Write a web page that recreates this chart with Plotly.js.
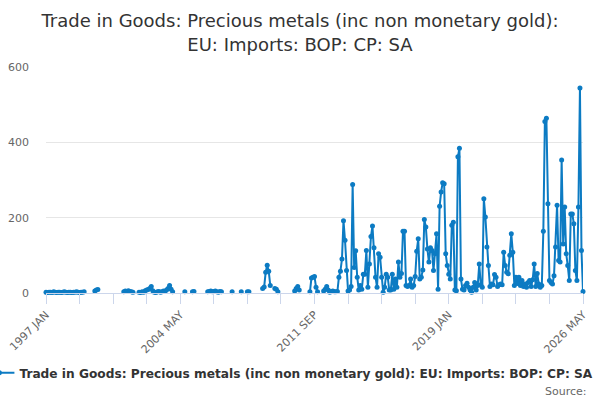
<!DOCTYPE html>
<html>
<head>
<meta charset="utf-8">
<script src="https://cdn.plot.ly/plotly-3.0.1.min.js"></script>
<style>
  html, body { margin: 0; padding: 0; background: #ffffff; }
  #chart { width: 600px; height: 400px; }
</style>
</head>
<body>
<div id="chart"></div>
<script>
// ---- Data (monthly, £ million) ----
const startYear = 1997;
const monthNames = ['JAN','FEB','MAR','APR','MAY','JUN','JUL','AUG','SEP','OCT','NOV','DEC'];

// 1997 JAN - 2004 DEC
const values1997to2004 = [
  2,1,2,2,1,3,2,1,2,2,1,2,
  3,2,1,2,2,1,2,2,3,2,1,2,
  2,3,null,null,null,null,null,null,5,8,9,null,
  null,null,null,null,null,null,null,null,null,null,null,null,
  null,null,null,3,5,4,6,4,3,2,null,null,
  null,2,1,3,2,6,8,9,12,17,6,2,
  1,3,4,2,3,5,4,8,12,20,10,3,
  null,null,null,null,null,null,null,3,null,null,null,null
];
// 2005 JAN - 2012 DEC
const values2005to2012 = [
  3,4,null,null,null,null,null,null,null,null,3,4,
  5,3,4,5,3,2,4,3,null,null,null,null,
  null,null,3,null,null,null,null,null,3,null,null,null,
  3,3,null,null,null,null,null,null,null,null,12,16,
  55,74,58,20,null,null,12,10,3,null,null,null,
  null,null,null,null,null,null,null,5,12,17,8,null,
  null,null,null,null,null,3,40,42,44,15,3,null,
  null,null,5,10,17,8,2,4,5,3,3,4
];
// 2013 JAN - 2019 DEC
const values2013to2019 = [
  42,58,90,192,140,60,5,8,17,288,68,112,
  42,8,20,10,50,50,113,15,77,150,178,120,
  42,15,104,95,42,2,15,50,42,8,8,50,
  10,37,15,82,42,52,164,164,20,17,20,37,
  15,20,44,111,144,37,42,61,195,175,117,82,
  120,113,60,104,157,10,230,268,293,290,104,73,
  50,37,180,188,8,6,362,384,37,10,8,20
];
// 2020 JAN - 2026 MAY
const values2020to2026 = [
  26,15,8,2,15,28,8,20,77,22,15,250,
  202,122,73,17,24,22,49,42,17,22,24,22,
  108,73,55,51,100,157,108,20,42,25,42,20,
  33,17,24,15,28,33,17,35,77,17,52,24,
  15,20,164,455,464,237,33,28,24,46,122,233,
  86,82,353,130,228,104,73,33,210,210,184,60,
  33,228,544,113,4
];

const yTickValues = [0, 200, 400, 600];
const seriesName = 'Trade in Goods: Precious metals (inc non monetary gold): EU: Imports: BOP: CP: SA';

// ---- Build series ----
const values = [].concat(values1997to2004, values2005to2012, values2013to2019, values2020to2026);
const categories = values.map((v, i) => (startYear + Math.floor(i / 12)) + ' ' + monthNames[i % 12]);

const tickStep = 22, labelEvery = 4;
const tickVals = [], tickText = [];
for (let i = 0; i < categories.length; i += tickStep) {
  tickVals.push(categories[i]);
  tickText.push((i / tickStep) % labelEvery === 0 ? categories[i] : '');
}

const blue = '#0c7bc3';
const FONT = 'DejaVu Sans, Verdana, sans-serif';

const trace = {
  x: categories,
  y: values,
  type: 'scatter',
  mode: 'lines+markers',
  name: seriesName,
  connectgaps: false,
  cliponaxis: false,
  line: { color: blue, width: 2 },
  marker: { color: blue, size: 5 },
  hoverinfo: 'x+y'
};

const layout = {
  width: 600,
  height: 400,
  margin: { l: 46, r: 17, t: 67, b: 106.5, autoexpand: false },
  paper_bgcolor: '#ffffff',
  plot_bgcolor: '#ffffff',
  font: { family: FONT, color: '#333333' },
  title: {
    text: 'Trade in Goods: Precious metals (inc non monetary gold):<br>EU: Imports: BOP: CP: SA',
    font: { family: FONT, size: 18, color: '#333333' },
    x: 0.5, xanchor: 'center',
    y: 0.932, yanchor: 'top'
  },
  xaxis: {
    type: 'category',
    range: [0, categories.length - 1],
    tickmode: 'array',
    tickvals: tickVals,
    ticktext: tickText,
    tickangle: -45,
    ticks: 'outside',
    ticklen: 10,
    tickcolor: '#ccd6eb',
    showline: true,
    linecolor: '#ccd6eb',
    linewidth: 1,
    showgrid: false,
    zeroline: false,
    tickfont: { family: FONT, size: 11, color: '#666666' },
    fixedrange: true
  },
  yaxis: {
    range: [0, 600],
    tickmode: 'array',
    tickvals: yTickValues,
    showgrid: true,
    gridcolor: '#e6e6e6',
    gridwidth: 1,
    zeroline: false,
    showline: false,
    ticks: '',
    ticklabelstandoff: 16,
    tickfont: { family: FONT, size: 11, color: '#666666' },
    fixedrange: true
  },
  showlegend: true,
  legend: {
    orientation: 'h',
    x: -0.124, xanchor: 'left',
    y: -0.353, yanchor: 'middle',
    bgcolor: 'rgba(0,0,0,0)',
    font: { family: FONT, size: 12.2, color: '#333333', weight: 'bold' }
  },
  annotations: [{
    text: 'Source:',
    xref: 'paper', yref: 'paper',
    x: 1.0113, y: -0.434,
    xanchor: 'right', yanchor: 'middle',
    showarrow: false,
    font: { family: FONT, size: 11, color: '#666666' }
  }]
};

Plotly.newPlot('chart', [trace], layout, { displayModeBar: false, staticPlot: true });
</script>
</body>
</html>
